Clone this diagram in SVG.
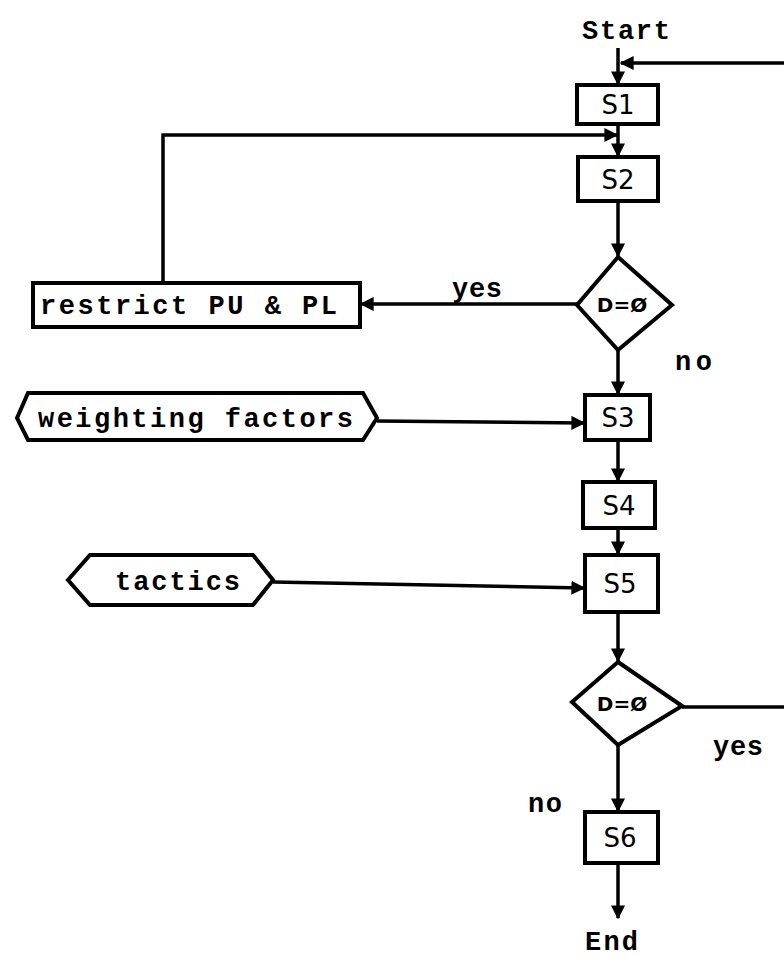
<svg xmlns="http://www.w3.org/2000/svg" width="784" height="958" viewBox="0 0 784 958">
<style>
.box{fill:#fff;stroke:#000;stroke-width:4}
.ln{fill:none;stroke:#000;stroke-width:3.5}
.t{font-family:"Liberation Mono","DejaVu Sans Mono",monospace;font-weight:bold;font-size:27px;fill:#000}
.s{font-family:"DejaVu Sans","Liberation Sans",sans-serif;font-size:26px;fill:#000;text-anchor:middle}
.d{font-family:"DejaVu Sans","Liberation Sans",sans-serif;font-weight:bold;font-size:20px;fill:#000;text-anchor:middle}
</style>
<defs>
<marker id="ah" viewBox="0 0 10 10" refX="9" refY="5" markerWidth="4" markerHeight="4" orient="auto" markerUnits="strokeWidth">
<path d="M0,0 L10,5 L0,10 z" fill="#000"/>
</marker>
</defs>
<rect width="784" height="958" fill="#fff"/>
<g id="connectors">
<path class="ln" d="M618,48 V84" marker-end="url(#ah)"/>
<path class="ln" d="M784,63 H621" marker-end="url(#ah)"/>
<path class="ln" d="M618,124 V156" marker-end="url(#ah)"/>
<path class="ln" d="M163,283 V135 H617" marker-end="url(#ah)"/>
<path class="ln" d="M618,201 V256" marker-end="url(#ah)"/>
<path class="ln" d="M577,304 H361" marker-end="url(#ah)"/>
<path class="ln" d="M618,350 V394" marker-end="url(#ah)"/>
<path class="ln" d="M377,421 L584,423" marker-end="url(#ah)"/>
<path class="ln" d="M618,440 V481" marker-end="url(#ah)"/>
<path class="ln" d="M618,528 V554" marker-end="url(#ah)"/>
<path class="ln" d="M273,582 L584,588" marker-end="url(#ah)"/>
<path class="ln" d="M618,612 V661" marker-end="url(#ah)"/>
<path class="ln" d="M682,707 H784"/>
<path class="ln" d="M618,745 V811" marker-end="url(#ah)"/>
<path class="ln" d="M618,863 V918" marker-end="url(#ah)"/>
</g>
<g id="start"><text class="t" x="582" y="39" textLength="88">Start</text></g>
<g id="S1"><rect class="box" x="577" y="85" width="81" height="39"/><text class="s" x="618" y="114">S1</text></g>
<g id="S2"><rect class="box" x="578" y="157" width="80" height="44"/><text class="s" x="618" y="189">S2</text></g>
<g id="dec1"><path class="box" d="M618,257 L672,305 L618,350 L577,305 Z"/><text class="d" x="622" y="312">D=Ø</text></g>
<g id="restrict"><rect class="box" x="33" y="283" width="327" height="44"/><text class="t" x="40" y="314" textLength="297">restrict PU &amp; PL</text></g>
<g id="lbl-yes1"><text class="t" x="452" y="297" textLength="50">yes</text></g>
<g id="lbl-no1"><text class="t" x="675" y="370" textLength="37">no</text></g>
<g id="weighting"><path class="box" d="M17,418 L28,393 H363 L377,418 L363,440 H28 Z"/><text class="t" x="38" y="427" textLength="315">weighting factors</text></g>
<g id="S3"><rect class="box" x="585" y="395" width="65" height="45"/><text class="s" x="618" y="427">S3</text></g>
<g id="S4"><rect class="box" x="583" y="482" width="72" height="46"/><text class="s" x="619" y="515">S4</text></g>
<g id="tactics"><path class="box" d="M68,580 L90,555 H253 L273,580 L253,605 H90 Z"/><text class="t" x="115" y="590" textLength="125">tactics</text></g>
<g id="S5"><rect class="box" x="585" y="555" width="73" height="57"/><text class="s" x="620" y="593">S5</text></g>
<g id="dec2"><path class="box" d="M618,662 L682,706 L618,745 L572,702 Z"/><text class="d" x="622" y="711">D=Ø</text></g>
<g id="lbl-yes2"><text class="t" x="713" y="755" textLength="50">yes</text></g>
<g id="lbl-no2"><text class="t" x="528" y="812" textLength="34">no</text></g>
<g id="S6"><rect class="box" x="585" y="812" width="73" height="51"/><text class="s" x="620" y="847">S6</text></g>
<g id="end"><text class="t" x="585" y="950" textLength="53">End</text></g>
</svg>
